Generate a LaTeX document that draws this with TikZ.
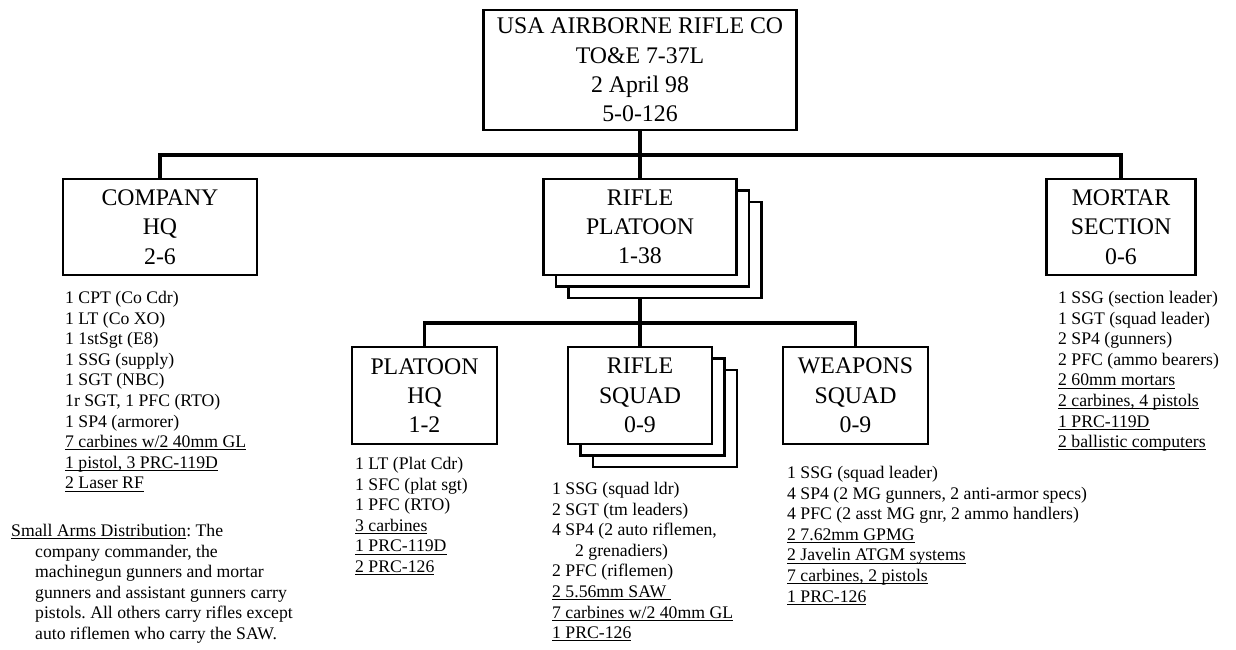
\documentclass[tikz,border=0pt]{standalone}
\usepackage{fontspec}
\setmainfont{Liberation Serif}
\usetikzlibrary{positioning}
\usetikzlibrary{backgrounds}
\frenchspacing

\newcommand\uln[1]{\leavevmode\setbox0\hbox{#1}\rlap{\rule[-2.8pt]{\wd0}{1.1pt}}\box0}

\begin{document}
\begin{tikzpicture}[x=1pt, y=-1pt,
		card/.style={draw=black, line width=2.6pt, fill=white},
		unit/.style={card, align=center, inner sep=0pt, outer sep=0pt,
			font=\fontsize{23.8}{29.3}\selectfont},
		roster/.style={anchor=north west, align=left, inner sep=0pt,
			font=\fontsize{17.7}{20.6}\selectfont},
		link/.style={black, line width=3.2pt}]
	\useasboundingbox (0,0) rectangle (1236,650);
	\node[unit, minimum width=313pt, minimum height=120pt] (co)   at ( 640,  70)   {USA AIRBORNE RIFLE CO\\TO\&E 7-37L\\2 April 98\\5-0-126};
	\node[unit, minimum width=194pt, minimum height=96pt]  (chq)  at ( 160, 227)   {COMPANY\\HQ\\2-6};
	\node[unit, minimum width=193pt, minimum height=96pt]  (plt)  at ( 640, 227)   {RIFLE\\PLATOON\\1-38};
	\node[unit, minimum width=149pt, minimum height=96pt]  (mort) at (1121, 227)   {MORTAR\\SECTION\\0-6};
	\node[unit, minimum width=145pt, minimum height=97pt]  (phq)  at ( 424.5, 395.5) {PLATOON\\HQ\\1-2};
	\node[unit, minimum width=144pt, minimum height=97pt]  (rsq)  at ( 640, 395.5) {RIFLE\\SQUAD\\0-9};
	\node[unit, minimum width=145pt, minimum height=97pt]  (wsq)  at ( 855.5, 395.5) {WEAPONS\\SQUAD\\0-9};
	\begin{scope}[on background layer]
		\draw[link] (co.south) -- (plt.north);
		\draw[link] (chq.north) -- ++(0,-24) -| (mort.north);
		\draw[link] (plt.south) -- (rsq.north);
		\draw[link] (phq.north) -- ++(0,-24) -| (wsq.north);
		\foreach \n in {plt, rsq} {
			\foreach \s in {2, 1}
				\draw[card] ([shift={(12.5*\s, 11.5*\s)}]\n.south west) rectangle ([shift={(12.5*\s, 11.5*\s)}]\n.north east);
		}
	\end{scope}
	\node[roster] (chqlist)  at (  65, 291) {1 CPT (Co Cdr)\\1 LT (Co XO)\\1 1stSgt (E8)\\1 SSG (supply)\\1 SGT (NBC)\\1r SGT, 1 PFC (RTO)\\1 SP4 (armorer)\\\uln{7 carbines w/2 40mm GL}\\\uln{1 pistol, 3 PRC-119D}\\\uln{2 Laser RF}};
	\node[roster] (notes)    at (  11, 524) {\uln{Small Arms Distribution}: The\\\hspace*{24pt}company commander, the\\\hspace*{24pt}machinegun gunners and mortar\\\hspace*{24pt}gunners and assistant gunners carry\\\hspace*{24pt}pistols. All others carry rifles except\\\hspace*{24pt}auto riflemen who carry the SAW.};
	\node[roster] (phqlist)  at ( 355, 457) {1 LT (Plat Cdr)\\1 SFC (plat sgt)\\1 PFC (RTO)\\\uln{3 carbines}\\\uln{1 PRC-119D}\\\uln{2 PRC-126}};
	\node[roster] (rsqlist)  at ( 552, 482) {1 SSG (squad ldr)\\2 SGT (tm leaders)\\4 SP4 (2 auto riflemen,\\\hspace*{23pt}2 grenadiers)\\2 PFC (riflemen)\\\uln{2 5.56mm SAW\ }\\\uln{7 carbines w/2 40mm GL}\\\uln{1 PRC-126}};
	\node[roster] (wsqlist)  at ( 787, 466) {1 SSG (squad leader)\\4 SP4 (2 MG gunners, 2 anti-armor specs)\\4 PFC (2 asst MG gnr, 2 ammo handlers)\\\uln{2 7.62mm GPMG}\\\uln{2 Javelin ATGM systems}\\\uln{7 carbines, 2 pistols}\\\uln{1 PRC-126}};
	\node[roster] (mortlist) at (1058, 291) {1 SSG (section leader)\\1 SGT (squad leader)\\2 SP4 (gunners)\\2 PFC (ammo bearers)\\\uln{2 60mm mortars}\\\uln{2 carbines, 4 pistols}\\\uln{1 PRC-119D}\\\uln{2 ballistic computers}};
\end{tikzpicture}
\end{document}
